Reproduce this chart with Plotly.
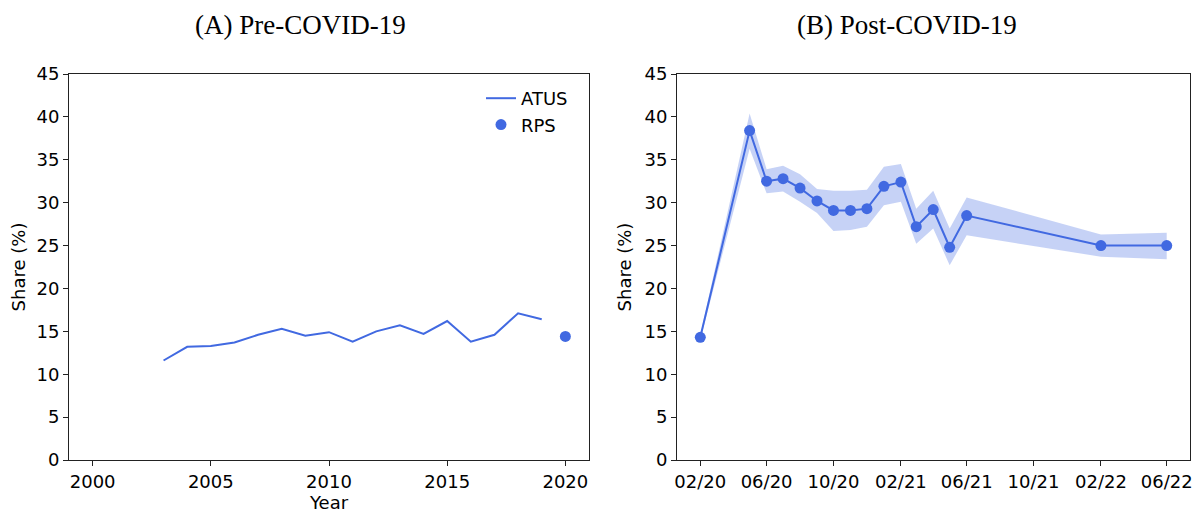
import plotly.graph_objects as go

# ---- data ----
atus_years = list(range(2003, 2020))
atus_share = [11.6, 13.2, 13.3, 13.7, 14.6, 15.3, 14.5, 14.9, 13.8, 15.0, 15.7, 14.7, 16.2, 13.8, 14.6, 17.1, 16.4]
rps_year = [2020]
rps_share = [14.4]

post_dates = ["2020-02-01", "2020-05-01", "2020-06-01", "2020-07-01", "2020-08-01", "2020-09-01",
              "2020-10-01", "2020-11-01", "2020-12-01", "2021-01-01", "2021-02-01", "2021-03-01",
              "2021-04-01", "2021-05-01", "2021-06-01", "2022-02-01", "2022-06-01"]
post_share = [14.3, 38.4, 32.5, 32.8, 31.7, 30.2, 29.1, 29.1, 29.3, 31.9, 32.4, 27.2, 29.2, 24.8, 28.5, 25.0, 25.0]
post_upper = [14.6, 40.4, 33.9, 34.3, 33.3, 31.6, 31.4, 31.4, 31.5, 34.2, 34.5, 29.3, 31.4, 27.0, 30.6, 26.3, 26.5]
post_lower = [14.0, 36.3, 31.1, 31.3, 30.1, 28.8, 26.7, 26.8, 27.2, 29.7, 30.1, 25.2, 27.0, 22.7, 26.2, 23.7, 23.4]

left_xticks = [2000, 2005, 2010, 2015, 2020]
right_xticks = ["2020-02-01", "2020-06-01", "2020-10-01", "2021-02-01", "2021-06-01",
                "2021-10-01", "2022-02-01", "2022-06-01"]
yticks = list(range(0, 50, 5))

BLUE = "#4169E1"
BAND = "rgba(65,105,225,0.3)"
OFF = 8                      # page body margin
W, H = 1201 - 2 * OFF, 514 - OFF
TICKFONT = dict(family="DejaVu Sans", size=18, color="black")


def px_x(x):
    return (x - OFF) / W


def px_y(y):
    return 1 - (y - OFF) / H


fig = go.Figure()

# left panel
fig.add_trace(go.Scatter(x=atus_years, y=atus_share, mode="lines", name="ATUS", legendgroup="a",
                         line=dict(color=BLUE, width=2), xaxis="x", yaxis="y"))
fig.add_trace(go.Scatter(x=rps_year, y=rps_share, mode="markers", name="RPS", legendgroup="b",
                         marker=dict(color=BLUE, size=11), xaxis="x", yaxis="y"))

# right panel: band
fig.add_trace(go.Scatter(x=post_dates, y=post_upper, mode="lines", line=dict(width=0, color=BAND),
                         showlegend=False, hoverinfo="skip", xaxis="x2", yaxis="y2"))
fig.add_trace(go.Scatter(x=post_dates, y=post_lower, mode="lines", line=dict(width=0, color=BAND),
                         fill="tonexty", fillcolor=BAND, showlegend=False, hoverinfo="skip",
                         xaxis="x2", yaxis="y2"))
fig.add_trace(go.Scatter(x=post_dates, y=post_share, mode="lines+markers",
                         line=dict(color=BLUE, width=2), marker=dict(color=BLUE, size=11),
                         showlegend=False, xaxis="x2", yaxis="y2"))

axis_common = dict(showline=True, linecolor="#222", linewidth=1, mirror=True,
                   ticks="outside", ticklen=5, tickwidth=1, tickcolor="#222",
                   showgrid=False, zeroline=False, tickfont=TICKFONT, automargin=False)

fig.update_layout(
    width=W, height=H,
    margin=dict(l=0, r=0, t=0, b=0, autoexpand=False),
    autosize=False,
    paper_bgcolor="white", plot_bgcolor="white",
    xaxis=dict(domain=[px_x(69), px_x(589)], range=[1999, 2021], tickvals=left_xticks, anchor="y",
               **axis_common),
    yaxis=dict(domain=[px_y(460), px_y(74)], range=[0, 45], tickvals=yticks, anchor="x",
               title=dict(text="Share (%)", font=TICKFONT, standoff=8), **axis_common),
    xaxis2=dict(domain=[px_x(677), px_x(1190)], range=["2019-12-20 12:00", "2022-07-13 12:00"],
                type="date", tickvals=right_xticks, tickformat="%m/%y", anchor="y2", **axis_common),
    yaxis2=dict(domain=[px_y(460), px_y(74)], range=[0, 45], tickvals=yticks, anchor="x2",
                title=dict(text="Share (%)", font=TICKFONT, standoff=8), **axis_common),
    legend=dict(x=px_x(481), y=px_y(80), xanchor="left", yanchor="top", traceorder="normal",
                bgcolor="rgba(0,0,0,0)", font=TICKFONT, tracegroupgap=10),
    showlegend=True,
    annotations=[
        dict(text="(A) Pre-COVID-19", x=px_x(300), y=px_y(25), xref="paper", yref="paper",
             showarrow=False, xanchor="center", yanchor="middle",
             font=dict(family="Liberation Serif", size=27, color="black")),
        dict(text="(B) Post-COVID-19", x=px_x(907), y=px_y(25), xref="paper", yref="paper",
             showarrow=False, xanchor="center", yanchor="middle",
             font=dict(family="Liberation Serif", size=27, color="black")),
        dict(text="Year", x=px_x(329), y=px_y(502), xref="paper", yref="paper",
             showarrow=False, xanchor="center", yanchor="middle",
             font=TICKFONT),
    ],
)

fig.write_html("out.html")
